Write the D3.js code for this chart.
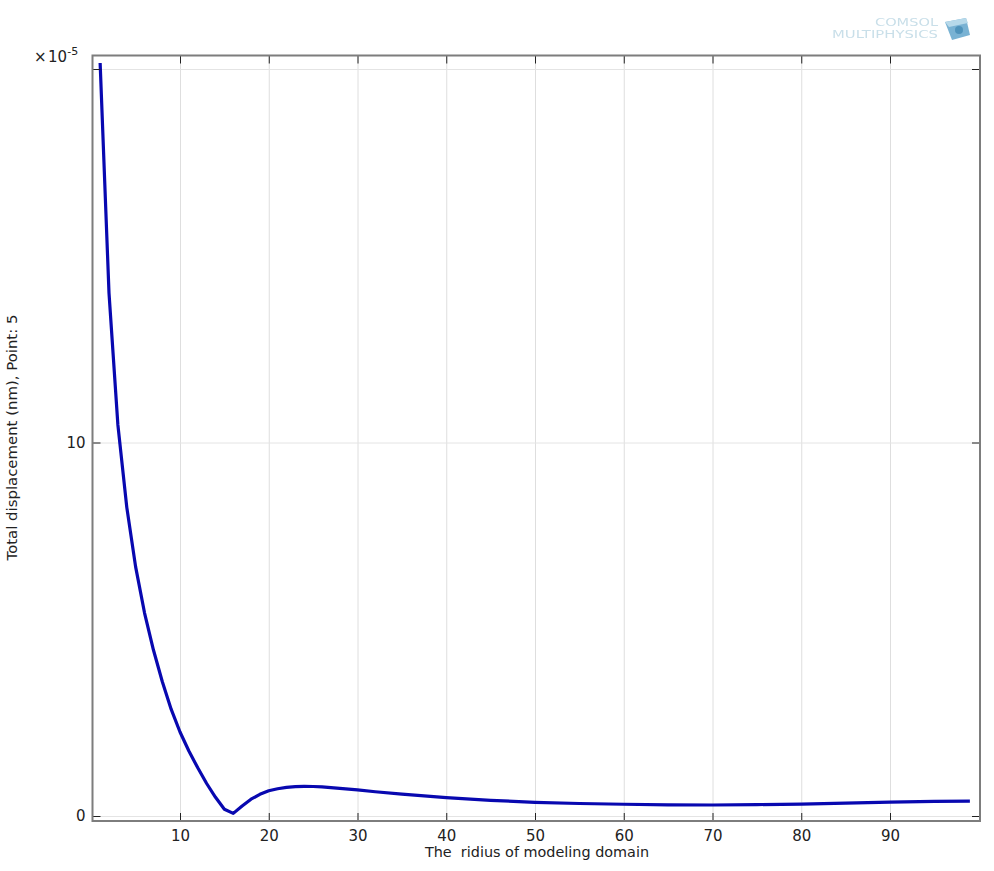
<!DOCTYPE html>
<html><head><meta charset="utf-8">
<script src="https://cdn.jsdelivr.net/npm/d3@7/dist/d3.min.js"></script>
<style>html,body{margin:0;background:#fff}svg{display:block}text{font-family:"DejaVu Sans",sans-serif;fill:#222}</style>
</head><body><svg id="c" width="994" height="871"></svg>
<script>
const radius=[1,2,3,4,5,6,7,8,9,10,11,12,13,14,15,16,17,18,19,20,21,22,23,24,25,26,28,30,32,35,40,45,50,55,60,65,70,75,80,85,90,95,99];
const displacement=[20.16,14.0,10.47,8.27,6.67,5.44,4.45,3.6,2.86,2.25,1.74,1.29,0.87,0.5,0.18,0.07,0.27,0.45,0.58,0.675,0.73,0.765,0.785,0.795,0.79,0.78,0.74,0.70,0.65,0.585,0.49,0.42,0.367,0.335,0.315,0.3,0.295,0.305,0.32,0.345,0.37,0.39,0.4];
const xTicks=[10,20,30,40,50,60,70,80,90];
const yTicks=[0,10,20];
const yTickLabels=["0","10",""];
const xTitle="The  ridius of modeling domain";
const yTitle="Total displacement (nm), Point: 5";
const logoLines=["COMSOL","MULTIPHYSICS"];

const svg=d3.select("#c");
const L=92.5,R=980,T=55.5,B=821;
const x=d3.scaleLinear().domain([0.14,100.14]).range([L,R]);
const y=d3.scaleLinear().domain([0,20]).range([816,69]);

svg.append("defs").append("filter").attr("id","soft").append("feGaussianBlur").attr("stdDeviation",0.5);

// grid
svg.append("g").attr("transform",`translate(0,${B})`)
  .call(d3.axisBottom(x).tickValues(xTicks).tickSize(-(B-T)).tickFormat(""))
  .call(g=>{g.select(".domain").remove();g.selectAll("line").attr("stroke","#dedede").attr("stroke-width",1)});
svg.append("g").attr("transform",`translate(${L},0)`)
  .call(d3.axisLeft(y).tickValues(yTicks).tickSize(-(R-L)).tickFormat(""))
  .call(g=>{g.select(".domain").remove();g.selectAll("line").attr("stroke","#e4e4e4").attr("stroke-width",1)});

// curve
svg.append("path").datum(radius.map((r,i)=>[r,displacement[i]]))
  .attr("fill","none").attr("stroke","#0808b0").attr("stroke-width",3.2).attr("stroke-linejoin","round")
  .attr("d",d3.line().x(d=>x(d[0])).y(d=>y(d[1])));

// axes with inward ticks
function style(g){g.select(".domain").remove();g.selectAll("line").attr("stroke","#222").attr("stroke-width",1);
  g.selectAll("text").attr("fill","#2a2a2a").style("font-size","15px").style("font-family",'"DejaVu Sans"');}
svg.append("g").attr("transform",`translate(0,${B})`)
  .call(d3.axisBottom(x).tickValues(xTicks).tickSizeInner(-8).tickPadding(9).tickSizeOuter(0)).call(style);
svg.append("g").attr("transform",`translate(0,${T})`)
  .call(d3.axisTop(x).tickValues(xTicks).tickSizeInner(-8).tickFormat("").tickSizeOuter(0)).call(style);
svg.append("g").attr("transform",`translate(${L},0)`)
  .call(d3.axisLeft(y).tickValues(yTicks).tickSizeInner(-8).tickPadding(7).tickSizeOuter(0)
    .tickFormat((d,i)=>yTickLabels[i])).call(style);
svg.append("g").attr("transform",`translate(${R},0)`)
  .call(d3.axisRight(y).tickValues(yTicks).tickSizeInner(-8).tickFormat("").tickSizeOuter(0)).call(style);

svg.append("rect").attr("x",L).attr("y",T).attr("width",R-L).attr("height",B-T)
  .attr("fill","none").attr("stroke","#7d7d7d").attr("stroke-width",2);

// titles
svg.append("text").attr("x",537).attr("y",857).attr("text-anchor","middle").style("font-size","14.4px").style("white-space","pre").text(xTitle);
svg.append("text").attr("transform","translate(17,437.5) rotate(-90)").attr("text-anchor","middle").style("font-size","14.9px").text(yTitle);

// multiplier
const m=svg.append("text").attr("x",34).attr("y",62).style("font-size","15px").attr("fill","#2a2a2a");
m.append("tspan").text("\u00d7\u200a10");
m.append("tspan").attr("dy",-7).style("font-size","11px").text("-5");

// logo
const lg=svg.append("g").attr("filter","url(#soft)");
lg.append("text").attr("x",875).attr("y",25.5).attr("textLength",63).attr("lengthAdjust","spacingAndGlyphs").style("font-size","10px").style("fill","#c9dfe9").text(logoLines[0]);
lg.append("text").attr("x",832).attr("y",37.5).attr("textLength",106).attr("lengthAdjust","spacingAndGlyphs").style("font-size","10px").style("fill","#c9dfe9").text(logoLines[1]);
lg.append("polygon").attr("points","945,22 966,18 970,35 952,40").attr("fill","#79b2d3");
lg.append("polygon").attr("points","945,22 966,18 968,23 949,27").attr("fill","#b7d9ea");
lg.append("circle").attr("cx",959).attr("cy",30).attr("r",4).attr("fill","#4f93bb");
</script></body></html>
